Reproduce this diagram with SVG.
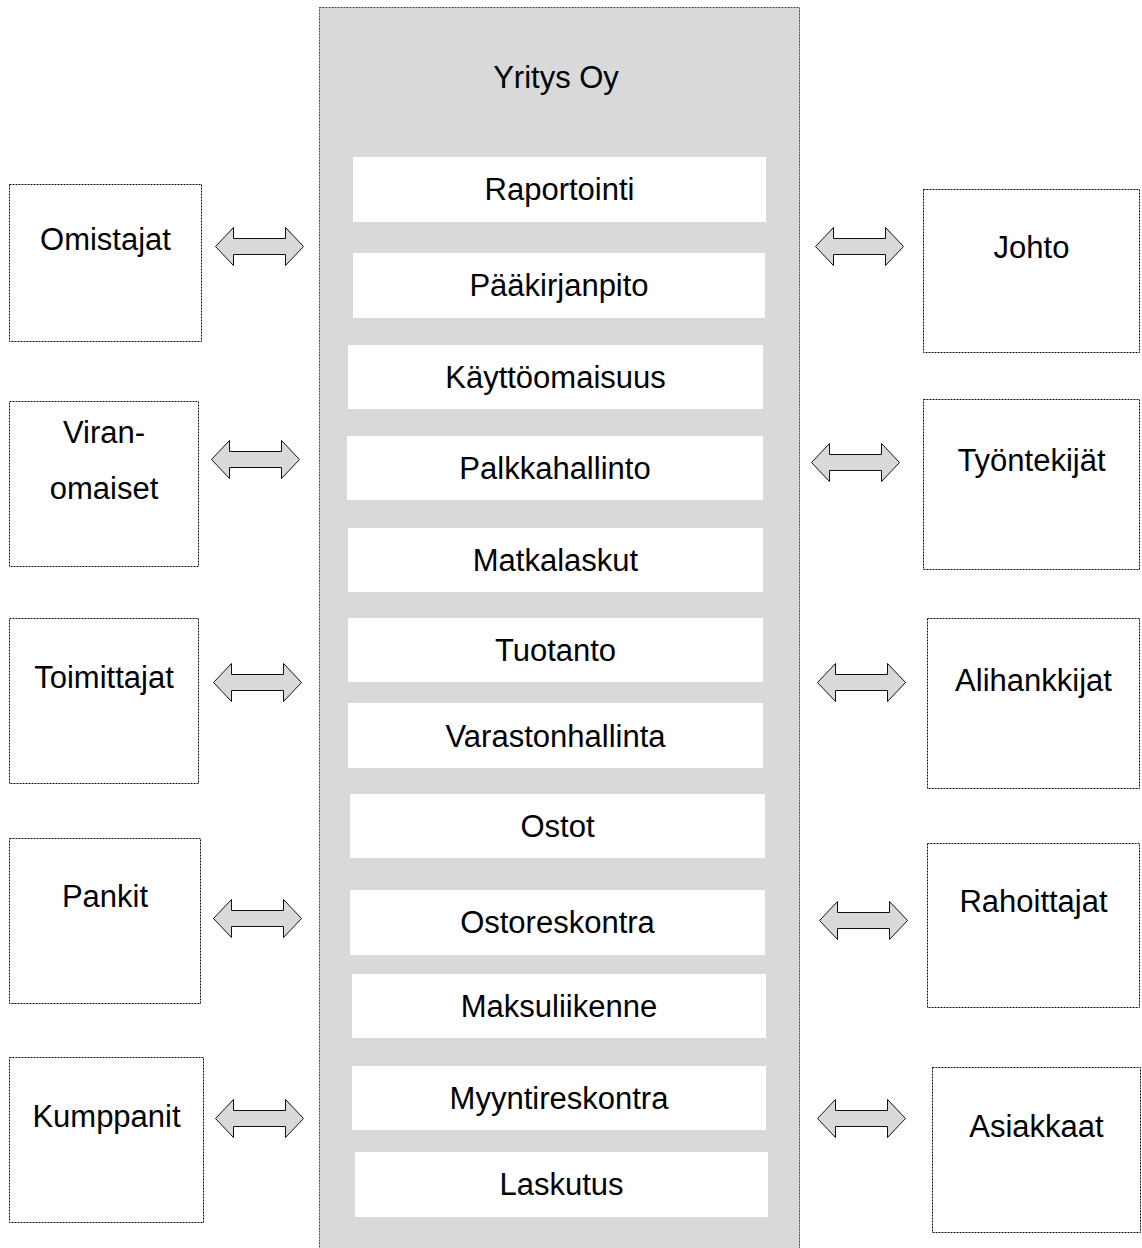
<svg xmlns="http://www.w3.org/2000/svg" width="1142" height="1248" viewBox="0 0 1142 1248">
<style>
.bg{fill:#ffffff}
.cont{fill:#d9d9d9;stroke:#444;stroke-width:1;stroke-dasharray:2 1}
.ext{fill:#ffffff;stroke:#111;stroke-width:1;stroke-dasharray:2 1}
.mod{fill:#ffffff;stroke:none}
text{font-family:"Liberation Sans",Arial,sans-serif;font-size:31px;fill:#000;text-anchor:middle}
.arr{fill:#d9d9d9;stroke:#111;stroke-width:1;stroke-linejoin:miter}
</style>
<defs>
<path id="dbl" class="arr" d="M0,0 L18,-19 L18,-8 L70,-8 L70,-19 L88,0 L70,19 L70,8 L18,8 L18,19 Z"/>
</defs>
<rect class="bg" x="0" y="0" width="1142" height="1248"/>
<g id="yritys">
<rect class="cont" x="319.5" y="7.5" width="480" height="1250"/>
<text x="556" y="88">Yritys Oy</text>
</g>
<g id="raportointi"><rect class="mod" x="353" y="157" width="413" height="65"/><text x="559.5" y="200">Raportointi</text></g>
<g id="paakirjanpito"><rect class="mod" x="353" y="253" width="412" height="65"/><text x="559" y="296">Pääkirjanpito</text></g>
<g id="kayttoomaisuus"><rect class="mod" x="348" y="345" width="415" height="64"/><text x="555.5" y="388">Käyttöomaisuus</text></g>
<g id="palkkahallinto"><rect class="mod" x="347" y="436" width="416" height="64"/><text x="555" y="479">Palkkahallinto</text></g>
<g id="matkalaskut"><rect class="mod" x="348" y="528" width="415" height="64"/><text x="555.5" y="571">Matkalaskut</text></g>
<g id="tuotanto"><rect class="mod" x="348" y="618" width="415" height="64"/><text x="555.5" y="661">Tuotanto</text></g>
<g id="varastonhallinta"><rect class="mod" x="348" y="703" width="415" height="65"/><text x="555.5" y="747">Varastonhallinta</text></g>
<g id="ostot"><rect class="mod" x="350" y="794" width="415" height="64"/><text x="557.5" y="837">Ostot</text></g>
<g id="ostoreskontra"><rect class="mod" x="350" y="890" width="415" height="65"/><text x="557.5" y="933">Ostoreskontra</text></g>
<g id="maksuliikenne"><rect class="mod" x="352" y="974" width="414" height="64"/><text x="559" y="1017">Maksuliikenne</text></g>
<g id="myyntireskontra"><rect class="mod" x="352" y="1066" width="414" height="64"/><text x="559" y="1109">Myyntireskontra</text></g>
<g id="laskutus"><rect class="mod" x="355" y="1152" width="413" height="65"/><text x="561.5" y="1195">Laskutus</text></g>

<g id="omistajat"><rect class="ext" x="9.5" y="184.5" width="192" height="157"/><text x="105.5" y="250">Omistajat</text></g>
<g id="viranomaiset"><rect class="ext" x="9.5" y="401.5" width="189" height="165"/><text x="104" y="443">Viran-</text><text x="104" y="499">omaiset</text></g>
<g id="toimittajat"><rect class="ext" x="9.5" y="618.5" width="189" height="165"/><text x="104" y="688">Toimittajat</text></g>
<g id="pankit"><rect class="ext" x="9.5" y="838.5" width="191" height="165"/><text x="105" y="907">Pankit</text></g>
<g id="kumppanit"><rect class="ext" x="9.5" y="1057.5" width="194" height="165"/><text x="106.5" y="1127">Kumppanit</text></g>

<g id="johto"><rect class="ext" x="923.5" y="189.5" width="216" height="163"/><text x="1031.5" y="258">Johto</text></g>
<g id="tyontekijat"><rect class="ext" x="923.5" y="399.5" width="216" height="170"/><text x="1031.5" y="471">Työntekijät</text></g>
<g id="alihankkijat"><rect class="ext" x="927.5" y="618.5" width="212" height="170"/><text x="1033.5" y="691">Alihankkijat</text></g>
<g id="rahoittajat"><rect class="ext" x="927.5" y="843.5" width="212" height="164"/><text x="1033.5" y="912">Rahoittajat</text></g>
<g id="asiakkaat"><rect class="ext" x="932.5" y="1067.5" width="208" height="165"/><text x="1036.5" y="1137">Asiakkaat</text></g>

<g id="connectors">
<use href="#dbl" x="215.5" y="246.5"/>
<use href="#dbl" x="211.5" y="459.5"/>
<use href="#dbl" x="213.5" y="682.5"/>
<use href="#dbl" x="213.5" y="918.5"/>
<use href="#dbl" x="215.5" y="1118.5"/>
<use href="#dbl" x="815.5" y="246.5"/>
<use href="#dbl" x="811.5" y="462.5"/>
<use href="#dbl" x="817.5" y="682.5"/>
<use href="#dbl" x="819.5" y="920.5"/>
<use href="#dbl" x="817.5" y="1118.5"/>
</g>
</svg>
